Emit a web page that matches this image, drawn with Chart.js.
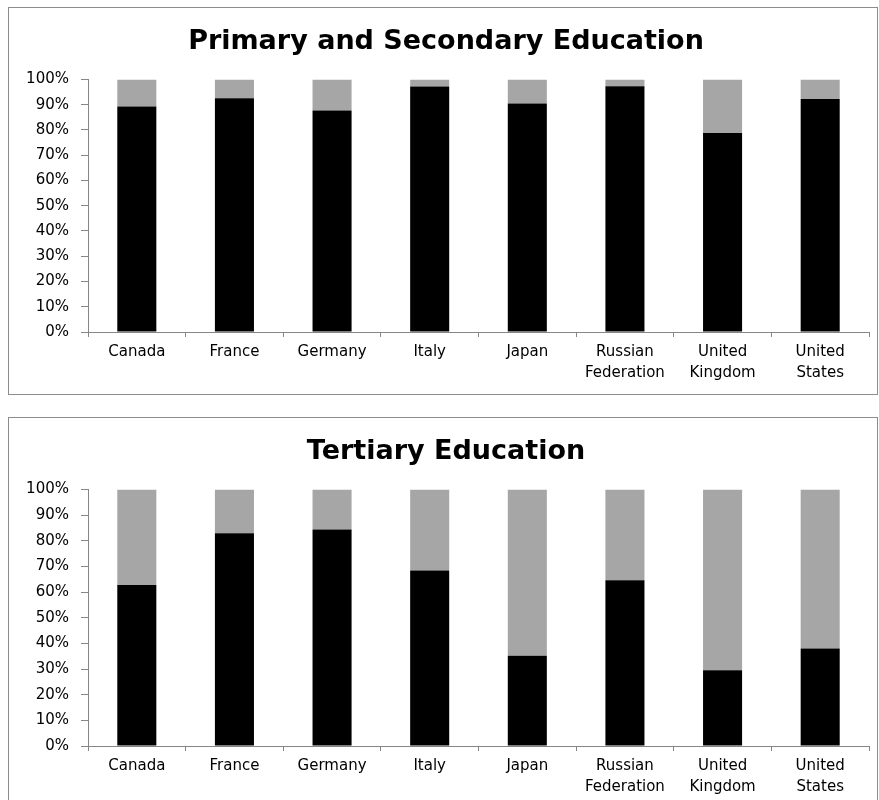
<!DOCTYPE html>
<html>
<head>
<meta charset="utf-8">
<script src="https://cdn.jsdelivr.net/npm/chart.js@4/dist/chart.umd.min.js"></script>
<style>
body{margin:0;background:#fff;width:879px;height:800px;overflow:hidden;position:relative}
.box{position:absolute;left:8px;width:868px;border:1px solid #8c8c8c;background:#fff}
#box1{top:7px;height:386px}
#box2{top:417px;height:390px}
canvas{display:block}
</style>
</head>
<body>
<div class="box" id="box1"><canvas id="chart1"></canvas></div>
<div class="box" id="box2"><canvas id="chart2"></canvas></div>
<script>

const countries=["Canada","France","Germany","Italy","Japan",["Russian","Federation"],["United","Kingdom"],["United","States"]]

// share (%) in black
const primaryBlack=[89.3,92.5,87.7,97.2,90.5,97.3,78.8,92.2]
const tertiaryBlack=[62.7,82.9,84.4,68.4,35.2,64.6,29.5,38.0]

const primaryGrey=primaryBlack.map(v=>100-v)
const tertiaryGrey=tertiaryBlack.map(v=>100-v)

const yTicks=[0,10,20,30,40,50,60,70,80,90,100]

const axisColor="#868686"

function makeChart(id,title,black,grey,w,h)
{

const cv=document.getElementById(id)
cv.width=w
cv.height=h
cv.style.width=w+"px"
cv.style.height=h+"px"

return new Chart(cv,
{
type:"bar",
data:
{
labels:countries,
datasets:[
{
label:"black",
data:black,
backgroundColor:"#000000",
barPercentage:0.4,
categoryPercentage:1
},
{
label:"grey",
data:grey,
backgroundColor:"#a6a6a6",
barPercentage:0.4,
categoryPercentage:1
}
]
},
options:
{
responsive:false,
animation:false,
devicePixelRatio:1,
layout:{padding:{left:14,right:8,top:0,bottom:0}},
plugins:
{
legend:{display:false},
tooltip:{enabled:false},
title:
{
display:true,
text:title,
color:"#000",
font:{family:"DejaVu Sans",size:27,weight:"bold",lineHeight:1.2},
padding:{top:18,bottom:21}
}
},
scales:
{
x:
{
stacked:true,
grid:{display:true,drawOnChartArea:false,drawTicks:true,tickLength:5,color:axisColor,offset:true},
border:{display:true,color:axisColor,width:1},
ticks:{color:"#000",font:{family:"DejaVu Sans",size:15,lineHeight:1.4},padding:5,maxRotation:0,autoSkip:false},
afterFit:function(s){s.height=62}
},
y:
{
stacked:true,
min:0,
max:100,
afterBuildTicks:function(s){s.ticks=yTicks.map(v=>({value:v}))},
grid:{display:true,drawOnChartArea:false,drawTicks:true,tickLength:7,color:axisColor},
border:{display:true,color:axisColor,width:1},
ticks:{color:"#000",font:{family:"DejaVu Sans",size:15},padding:12,callback:v=>v+"%"},
afterFit:function(s){s.width=65}
}
}
}
})

}

makeChart("chart1","Primary and Secondary Education",primaryBlack,primaryGrey,868,386)
makeChart("chart2","Tertiary Education",tertiaryBlack,tertiaryGrey,868,390)

</script>
</body>
</html>
